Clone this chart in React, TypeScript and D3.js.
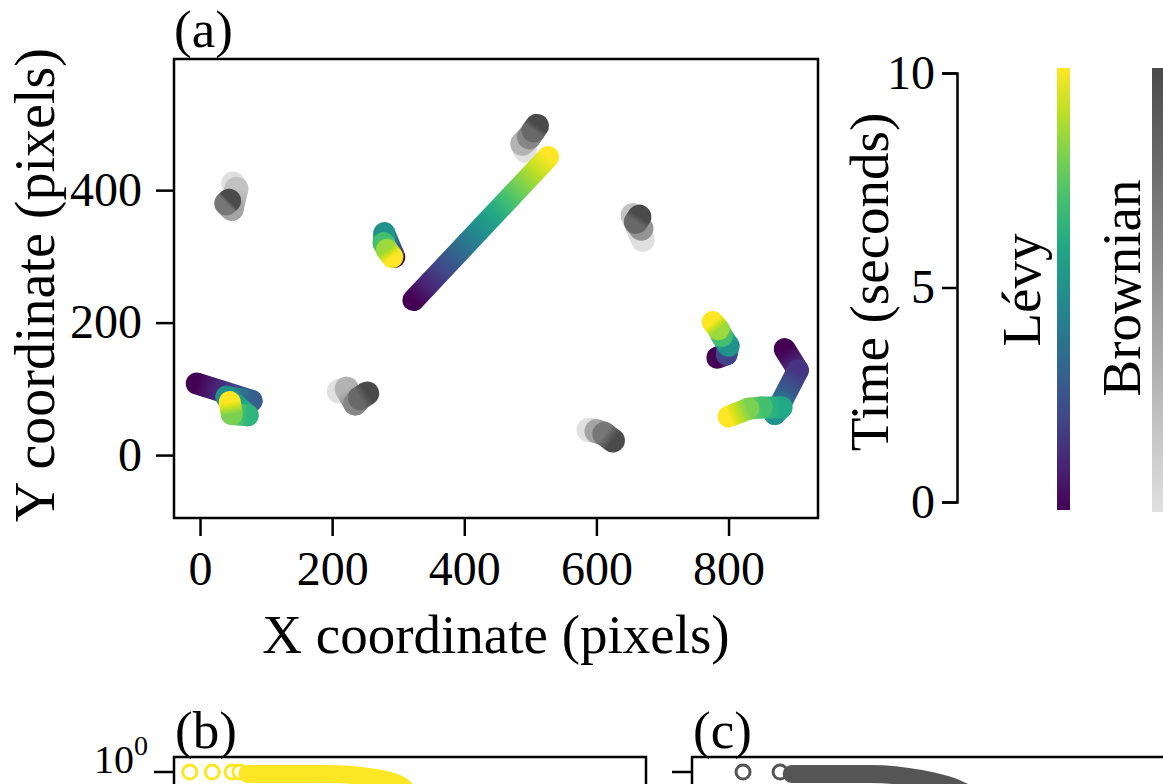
import * as d3 from "d3";
import { useEffect, useRef } from "react";

// panel (a) trajectories: [x pixel, y pixel, time s]
const levyTrack1 = [[323, 234, 0], [527, 450, 10]];
const levyTrack2 = [[294, 299, 0], [292, 304, 2], [279, 335, 5], [278, 320, 7], [283, 310, 8.5], [291, 299, 10]];
const levyTrack3 = [[-5, 108, 0], [78, 82, 3], [40, 88, 5], [72, 60, 6.5], [48, 62, 8], [45, 80, 10]];
const levyTrack4 = [[783, 147, 0], [797, 152, 2], [800, 165, 5], [790, 180, 7], [785, 190, 8.5], [776, 201, 10]];
const levyTrack5 = [[885, 160, 0], [905, 128, 1.5], [880, 80, 3.5], [870, 62, 5], [880, 72, 6], [850, 72, 7], [830, 70, 8], [800, 58, 10]];

const brownTrack1 = [[50, 410, 0], [55, 402, 2], [48, 372, 4], [40, 380, 7], [44, 384, 10]];
const brownTrack2 = [[210, 96, 0], [222, 100, 3], [235, 78, 6], [242, 86, 8], [253, 93, 10]];
const brownTrack3 = [[492, 460, 0], [488, 470, 3], [498, 480, 6], [505, 490, 8], [510, 497, 10]];
const brownTrack4 = [[670, 325, 0], [655, 362, 2], [668, 342, 5], [660, 352, 8], [665, 360, 10]];
const brownTrack5 = [[588, 38, 0], [600, 36, 4], [612, 32, 7], [625, 22, 10]];

const xTicks = [0, 200, 400, 600, 800];
const yTicks = [0, 200, 400];
const timeTicks = [0, 5, 10];

// panel (b)/(c): step length vs CCDF (only the top is visible)
const levyOpenX = [1.26, 1.75, 2.34, 2.62];
const levyBandX = [2.92, 9.8, 17.7, 27.5, 31];
const levyBandP = [0.95, 0.95, 0.87, 0.7, 0.57];
const brownOpenX = [2.11, 3.63];
const brownBandX = [4.3, 13.6, 28.4, 44, 54.9];
const brownBandP = [0.95, 0.95, 0.83, 0.68, 0.57];

export default function App() {
  const ref = useRef<SVGSVGElement>(null);

  useEffect(() => {
    const svg = d3.select(ref.current);
    svg.selectAll("*").remove();
    const font = "'Liberation Serif', 'Times New Roman', serif";
    const defs = svg.append("defs");

    // ---- panel (a)
    const box = { left: 174, right: 818, top: 59, bottom: 518 };
    const x = d3.scaleLinear().domain([-39.4, 935.4]).range([box.left, box.right]);
    const y = d3.scaleLinear().domain([-95, 598]).range([box.bottom, box.top]);

    const levyColor = (t: number) => d3.interpolateViridis(t / 10);
    const brownColor = d3.scaleLinear<string>().domain([0, 10]).range(["#e0e0e0", "#4a4a4a"]);

    let gid = 0;
    const drawTrack = (g: any, pts: number[][], color: (t: number) => string, w: number) => {
      for (let i = 0; i < pts.length - 1; i++) {
        const [x0, y0, t0] = pts[i];
        const [x1, y1, t1] = pts[i + 1];
        const id = "seg" + gid++;
        const grad = defs.append("linearGradient")
          .attr("id", id)
          .attr("gradientUnits", "userSpaceOnUse")
          .attr("x1", x(x0)).attr("y1", y(y0))
          .attr("x2", x(x1)).attr("y2", y(y1));
        d3.range(0, 11).forEach(k => {
          grad.append("stop")
            .attr("offset", k / 10)
            .attr("stop-color", color(t0 + (t1 - t0) * k / 10));
        });
        g.append("line")
          .attr("x1", x(x0)).attr("y1", y(y0))
          .attr("x2", x(x1)).attr("y2", y(y1))
          .attr("stroke", `url(#${id})`)
          .attr("stroke-width", w)
          .attr("stroke-linecap", "round");
      }
    };

    const tracks = svg.append("g");
    [brownTrack1, brownTrack2, brownTrack3, brownTrack4, brownTrack5]
      .forEach(p => drawTrack(tracks, p, brownColor, 24));
    [levyTrack1, levyTrack2, levyTrack3, levyTrack4, levyTrack5]
      .forEach(p => drawTrack(tracks, p, levyColor, 22));

    svg.append("rect")
      .attr("x", box.left).attr("y", box.top)
      .attr("width", box.right - box.left).attr("height", box.bottom - box.top)
      .attr("fill", "none").attr("stroke", "black").attr("stroke-width", 2.5);

    const xAxis = svg.append("g")
      .attr("transform", `translate(0, ${box.bottom})`)
      .call(d3.axisBottom(x).tickValues(xTicks).tickSize(18).tickPadding(15).tickFormat(d3.format("d")));
    const yAxis = svg.append("g")
      .attr("transform", `translate(${box.left}, 0)`)
      .call(d3.axisLeft(y).tickValues(yTicks).tickSize(18).tickPadding(14).tickFormat(d3.format("d")));
    [xAxis, yAxis].forEach(a => {
      a.select(".domain").remove();
      a.selectAll("line").attr("stroke-width", 2.5);
      a.selectAll("text").attr("font-family", font).attr("font-size", 48).attr("fill", "black");
    });

    svg.append("text")
      .attr("x", (box.left + box.right) / 2).attr("y", 653)
      .attr("text-anchor", "middle")
      .attr("font-family", font).attr("font-size", 55)
      .text("X coordinate (pixels)");
    svg.append("text")
      .attr("transform", "translate(54, 285) rotate(-90)")
      .attr("text-anchor", "middle")
      .attr("font-family", font).attr("font-size", 56)
      .text("Y coordinate (pixels)");
    svg.append("text")
      .attr("x", 174).attr("y", 47)
      .attr("font-family", font).attr("font-size", 53)
      .text("(a)");

    // ---- colour bars
    const tY = d3.scaleLinear().domain([0, 10]).range([502, 73]);
    const tAxis = svg.append("g")
      .attr("transform", "translate(957, 0)")
      .call(d3.axisLeft(tY).tickValues(timeTicks).tickSize(15).tickPadding(7));
    tAxis.selectAll("line, path").attr("stroke-width", 2.5);
    tAxis.selectAll("text").attr("font-family", font).attr("font-size", 48).attr("fill", "black");
    svg.append("text")
      .attr("transform", "translate(888, 282) rotate(-90)")
      .attr("text-anchor", "middle")
      .attr("font-family", font).attr("font-size", 55)
      .text("Time (seconds)");

    const barGrad = (id: string, color: (t: number) => string) => {
      const g = defs.append("linearGradient").attr("id", id)
        .attr("x1", 0).attr("y1", 1).attr("x2", 0).attr("y2", 0);
      d3.range(0, 11).forEach(k => {
        g.append("stop").attr("offset", k / 10).attr("stop-color", color(k));
      });
    };
    barGrad("levyBar", levyColor);
    barGrad("brownBar", brownColor);
    svg.append("rect")
      .attr("x", 1057).attr("width", 13)
      .attr("y", tY(10) - 5).attr("height", tY(0) - tY(10) + 13)
      .attr("fill", "url(#levyBar)");
    svg.append("rect")
      .attr("x", 1152).attr("width", 13)
      .attr("y", tY(10) - 5).attr("height", tY(0) - tY(10) + 15)
      .attr("fill", "url(#brownBar)");
    svg.append("text")
      .attr("transform", "translate(1040, 290) rotate(-90)")
      .attr("text-anchor", "middle")
      .attr("font-family", font).attr("font-size", 55)
      .text("Lévy");
    svg.append("text")
      .attr("transform", "translate(1140, 288) rotate(-90)")
      .attr("text-anchor", "middle")
      .attr("font-family", font).attr("font-size", 55)
      .text("Brownian");

    // ---- panels (b) and (c)
    const drawCcdf = (left: number, width: number, openX: number[], bandX: number[], bandP: number[], color: string, label: string) => {
      const xs = d3.scaleLog().domain([1, 1000]).range([left, left + 472]);
      const ys = d3.scaleLog().domain([1, 1e-4]).range([772, 1112]);
      const g = svg.append("g");
      g.selectAll("circle")
        .data(openX)
        .join("circle")
        .attr("cx", d => xs(d)).attr("cy", ys(1)).attr("r", 7)
        .attr("fill", "white").attr("stroke", color).attr("stroke-width", 3);
      const line = d3.line<number>()
        .x(d => xs(d))
        .y((d, i) => ys(bandP[i]))
        .curve(d3.curveMonotoneX);
      g.append("path")
        .attr("d", line(bandX))
        .attr("fill", "none").attr("stroke", color)
        .attr("stroke-width", 18).attr("stroke-linecap", "round");
      g.append("rect")
        .attr("x", left).attr("y", 757).attr("width", width).attr("height", 400)
        .attr("fill", "none").attr("stroke", "black").attr("stroke-width", 2.5);
      g.append("line")
        .attr("x1", left - 20).attr("x2", left)
        .attr("y1", ys(1)).attr("y2", ys(1))
        .attr("stroke", "black").attr("stroke-width", 2.5);
      g.append("text")
        .attr("x", left + 1).attr("y", 748)
        .attr("font-family", font).attr("font-size", 53)
        .text(label);
      return ys;
    };
    const ysB = drawCcdf(174, 472, levyOpenX, levyBandX, levyBandP, "#FDE725", "(b)");
    drawCcdf(692, 520, brownOpenX, brownBandX, brownBandP, "#555555", "(c)");

    // y tick label of (b), lifted so it stays inside the picture
    const tick = svg.append("text")
      .attr("x", 148).attr("y", ysB(1) + 1)
      .attr("text-anchor", "end")
      .attr("font-family", font).attr("font-size", 40);
    tick.append("tspan").text("10");
    tick.append("tspan").attr("dy", -18).attr("font-size", 28).text("0");
  }, []);

  return (
    <svg
      ref={ref}
      width={1163}
      height={784}
      style={{ position: "absolute", left: 0, top: 0, display: "block", background: "white" }}
    />
  );
}
